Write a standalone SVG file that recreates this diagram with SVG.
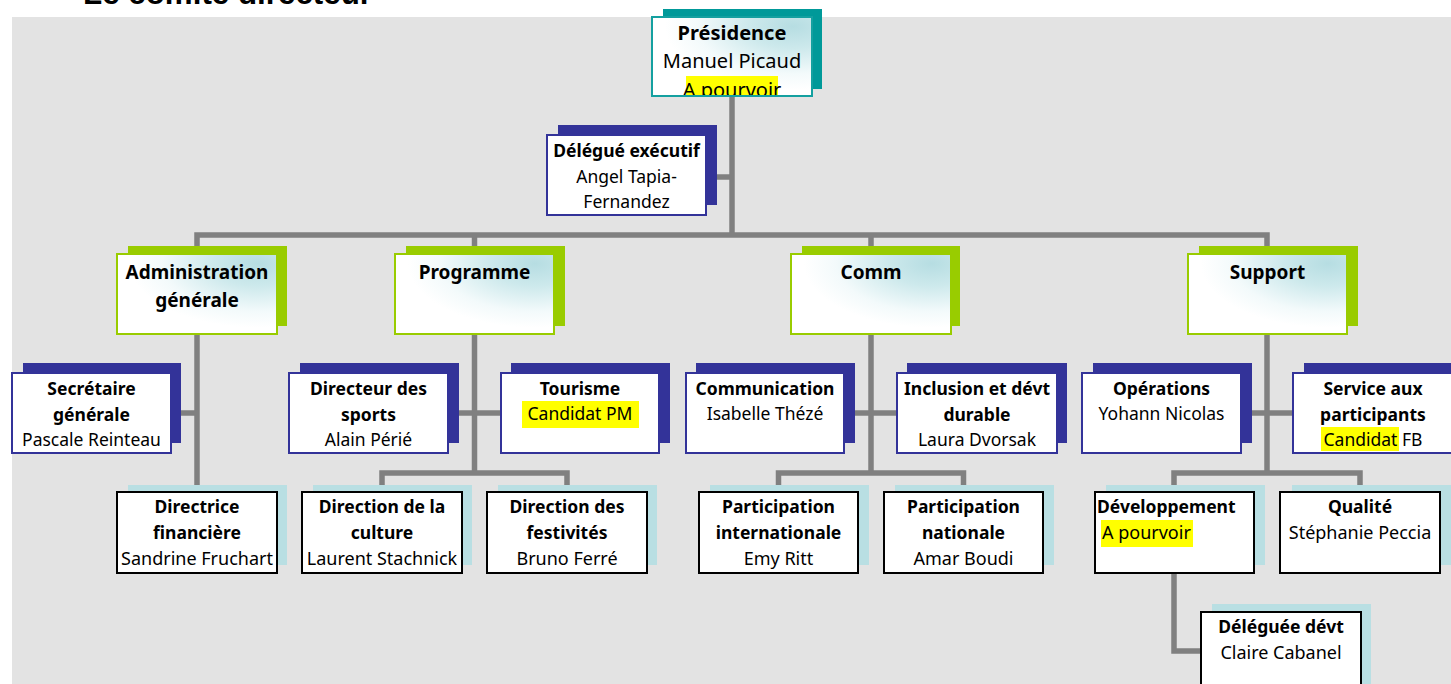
<svg xmlns="http://www.w3.org/2000/svg" width="1451" height="684" viewBox="0 0 1451 684">
<style>
text{font-family:"Noto Sans","Open Sans","Liberation Sans",sans-serif;fill:#000;text-anchor:middle}
.b{font-weight:bold}
.t0{font-size:20px}
.t2{font-size:19px;font-weight:bold}
.t3{font-size:17.5px}
.t4{font-size:17.5px}
.r4{font-size:18px}
.title{font-family:"Liberation Sans",Arial,sans-serif;font-weight:bold;font-size:31px;text-anchor:start}
.sh0{fill:#009999}
.sh2{fill:#99cc00}
.sh3{fill:#333399}
.sh4{fill:#b9dfe3}
.m0{fill:url(#grad);stroke:#14a0a0;stroke-width:2}
.m2{fill:url(#grad);stroke:#99cc00;stroke-width:2}
.m3{fill:#fff;stroke:#333399;stroke-width:2}
.m4{fill:#fff;stroke:#000;stroke-width:2}
.hl{fill:#ffff00}
#connectors path{fill:none;stroke:#808080;stroke-width:5.5}
</style>
<defs>
<radialGradient id="grad" cx="0.88" cy="0.12" r="0.8" fx="0.88" fy="0.12">
<stop offset="0" stop-color="#b6dde2"/>
<stop offset="0.35" stop-color="#cde9ec"/>
<stop offset="0.75" stop-color="#f3fafb"/>
<stop offset="1" stop-color="#ffffff"/>
</radialGradient>
<clipPath id="clipP"><rect x="653" y="18" width="158" height="77"/></clipPath>
</defs>
<rect x="12" y="17" width="1439" height="667" fill="#e3e3e3"/>
<text class="title" x="83" y="4" textLength="289" lengthAdjust="spacingAndGlyphs">Le comité directeur</text>

<g id="connectors">
<path d="M732,96 V235"/>
<path d="M706,177 H732"/>
<path d="M197,254 V235 H1267 V254"/>
<path d="M474.5,235 V254"/>
<path d="M871,235 V254"/>
<path d="M197,334 V492"/>
<path d="M171,413 H197"/>
<path d="M474.5,334 V473"/>
<path d="M448,413 H501"/>
<path d="M382,492 V473 H567 V492"/>
<path d="M871,334 V473"/>
<path d="M844,413 H897"/>
<path d="M778.5,492 V473 H963.5 V492"/>
<path d="M1267,334 V473"/>
<path d="M1241,413 H1293"/>
<path d="M1174,492 V473 H1360 V492"/>
<path d="M1174,573 V651 H1201"/>
</g>

<g id="presidence">
<rect class="sh0" x="663" y="9" width="159" height="80"/>
<rect class="m0" x="652" y="17" width="160" height="79"/>
<g clip-path="url(#clipP)">
<rect class="hl" x="686" y="76" width="92" height="20"/>
<text class="t0 b" x="732" y="40">Présidence</text>
<text class="t0" x="732" y="68">Manuel Picaud</text>
<text class="t0" x="732" y="97">A pourvoir</text>
</g>
</g>

<g id="delegue-executif">
<rect class="sh3" x="558" y="125" width="159" height="80"/>
<rect class="m3" x="547" y="135" width="159" height="80"/>
<text class="t3 b" x="626.5" y="157">Délégué exécutif</text>
<text class="t3" x="626.5" y="183">Angel Tapia-</text>
<text class="t3" x="626.5" y="208">Fernandez</text>
</g>

<g id="administration">
<rect class="sh2" x="128" y="246" width="159" height="80"/>
<rect class="m2" x="117" y="254" width="160" height="80"/>
<text class="t2" x="197" y="279">Administration</text>
<text class="t2" x="197" y="307">générale</text>
</g>

<g id="programme">
<rect class="sh2" x="406" y="246" width="159" height="80"/>
<rect class="m2" x="395" y="254" width="159" height="80"/>
<text class="t2" x="474.5" y="279">Programme</text>
</g>

<g id="comm">
<rect class="sh2" x="802" y="246" width="158" height="80"/>
<rect class="m2" x="791" y="254" width="160" height="80"/>
<text class="t2" x="871" y="279">Comm</text>
</g>

<g id="support">
<rect class="sh2" x="1199" y="246" width="159" height="80"/>
<rect class="m2" x="1188" y="254" width="159" height="80"/>
<text class="t2" x="1267.5" y="279">Support</text>
</g>

<g id="secretaire">
<rect class="sh3" x="23" y="363" width="158" height="80"/>
<rect class="m3" x="12" y="373" width="159" height="80"/>
<text class="t3 b" x="91.5" y="395">Secrétaire</text>
<text class="t3 b" x="91.5" y="421">générale</text>
<text class="t3" x="91.5" y="446">Pascale Reinteau</text>
</g>

<g id="directeur-sports">
<rect class="sh3" x="300" y="363" width="159" height="80"/>
<rect class="m3" x="289" y="373" width="159" height="80"/>
<text class="t3 b" x="368.5" y="395">Directeur des</text>
<text class="t3 b" x="368.5" y="421">sports</text>
<text class="t3" x="368.5" y="446">Alain Périé</text>
</g>

<g id="tourisme">
<rect class="sh3" x="511" y="363" width="159" height="80"/>
<rect class="m3" x="501" y="373" width="158" height="80"/>
<text class="t3 b" x="580" y="395">Tourisme</text>
<rect class="hl" x="522" y="401" width="117" height="27"/>
<text class="t3" x="580" y="420">Candidat PM</text>
</g>

<g id="communication">
<rect class="sh3" x="696" y="363" width="159" height="80"/>
<rect class="m3" x="686" y="373" width="158" height="80"/>
<text class="t3 b" x="765" y="395">Communication</text>
<text class="t3" x="765" y="420">Isabelle Thézé</text>
</g>

<g id="inclusion">
<rect class="sh3" x="907" y="363" width="160" height="80"/>
<rect class="m3" x="897" y="373" width="160" height="80"/>
<text class="t3 b" x="977" y="395">Inclusion et dévt</text>
<text class="t3 b" x="977" y="421">durable</text>
<text class="t3" x="977" y="446">Laura Dvorsak</text>
</g>

<g id="operations">
<rect class="sh3" x="1093" y="363" width="159" height="80"/>
<rect class="m3" x="1082" y="373" width="159" height="80"/>
<text class="t3 b" x="1161.5" y="395">Opérations</text>
<text class="t3" x="1161.5" y="420">Yohann Nicolas</text>
</g>

<g id="service-participants">
<rect class="sh3" x="1304" y="363" width="160" height="80"/>
<rect class="m3" x="1293" y="373" width="160" height="80"/>
<text class="t3 b" x="1373" y="395">Service aux</text>
<text class="t3 b" x="1373" y="421">participants</text>
<rect class="hl" x="1321" y="427" width="78" height="24"/>
<text class="t3" x="1373" y="446">Candidat FB</text>
</g>

<g id="directrice-financiere">
<rect class="sh4" x="128" y="485" width="159" height="80"/>
<rect class="m4" x="117" y="492" width="160" height="81"/>
<text class="t4 b" x="197" y="513">Directrice</text>
<text class="t4 b" x="197" y="539">financière</text>
<text class="r4" x="197" y="565">Sandrine Fruchart</text>
</g>

<g id="direction-culture">
<rect class="sh4" x="313" y="485" width="159" height="80"/>
<rect class="m4" x="302" y="492" width="160" height="81"/>
<text class="t4 b" x="382" y="513">Direction de la</text>
<text class="t4 b" x="382" y="539">culture</text>
<text class="r4" x="382" y="565">Laurent Stachnick</text>
</g>

<g id="direction-festivites">
<rect class="sh4" x="498" y="485" width="159" height="80"/>
<rect class="m4" x="487" y="492" width="160" height="81"/>
<text class="t4 b" x="567" y="513">Direction des</text>
<text class="t4 b" x="567" y="539">festivités</text>
<text class="r4" x="567" y="565">Bruno Ferré</text>
</g>

<g id="participation-internationale">
<rect class="sh4" x="710" y="485" width="159" height="80"/>
<rect class="m4" x="699" y="492" width="159" height="81"/>
<text class="t4 b" x="778.5" y="513">Participation</text>
<text class="t4 b" x="778.5" y="539">internationale</text>
<text class="r4" x="778.5" y="565">Emy Ritt</text>
</g>

<g id="participation-nationale">
<rect class="sh4" x="895" y="485" width="159" height="80"/>
<rect class="m4" x="884" y="492" width="159" height="81"/>
<text class="t4 b" x="963.5" y="513">Participation</text>
<text class="t4 b" x="963.5" y="539">nationale</text>
<text class="r4" x="963.5" y="565">Amar Boudi</text>
</g>

<g id="developpement">
<rect class="sh4" x="1106" y="485" width="159" height="80"/>
<rect class="m4" x="1095" y="492" width="159" height="81"/>
<text class="t4 b" x="1097" y="513" style="text-anchor:start">Développement</text>
<rect class="hl" x="1101" y="520" width="92" height="27"/>
<text class="r4" x="1102" y="539" style="text-anchor:start">A pourvoir</text>
</g>

<g id="qualite">
<rect class="sh4" x="1292" y="485" width="159" height="80"/>
<rect class="m4" x="1280" y="492" width="160" height="81"/>
<text class="t4 b" x="1360" y="513">Qualité</text>
<text class="r4" x="1360" y="539">Stéphanie Peccia</text>
</g>

<g id="deleguee-devt">
<rect class="sh4" x="1212" y="604" width="159" height="90"/>
<rect class="m4" x="1201" y="612" width="160" height="90"/>
<text class="t4 b" x="1281" y="633">Déléguée dévt</text>
<text class="r4" x="1281" y="659">Claire Cabanel</text>
</g>
</svg>
